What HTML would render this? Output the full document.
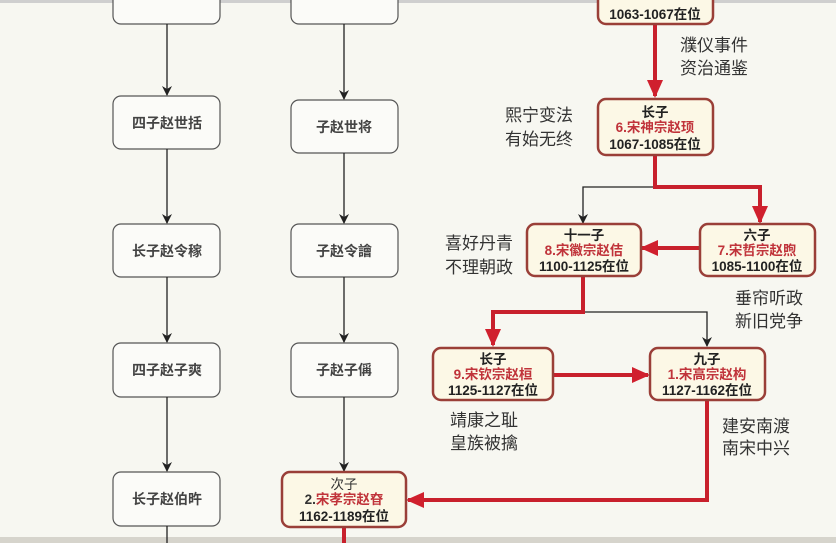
<!DOCTYPE html>
<html><head><meta charset="utf-8"><style>
html,body{margin:0;padding:0;background:#f7f7f1;}
svg{display:block}
text{font-family:"Liberation Sans","Noto Sans CJK SC",sans-serif;}
</style></head><body>
<svg width="836" height="543" viewBox="0 0 836 543" xmlns="http://www.w3.org/2000/svg">
<defs>
<marker id="ab" markerWidth="10" markerHeight="10" refX="9" refY="5" orient="auto" markerUnits="userSpaceOnUse"><path d="M0,0 L10,5 L0,10 L3,5 Z" fill="#222"/></marker>
<marker id="ar" markerWidth="18" markerHeight="16" refX="16" refY="8" orient="auto" markerUnits="userSpaceOnUse"><path d="M0,0 L18,8 L0,16 Z" fill="#d0202e"/></marker>
</defs>
<rect width="836" height="543" fill="#f7f7f1"/>
<rect x="0" y="0" width="836" height="3" fill="#cfcfcf"/>
<rect x="0" y="537" width="836" height="6" fill="#d6d4cc"/>

<g fill="#fbfbf8" stroke="#555" stroke-width="1.2">
<rect x="113" y="-20" width="107" height="44" rx="8"/>
<rect x="113" y="96" width="107" height="53" rx="8"/>
<rect x="113" y="224" width="107" height="53" rx="8"/>
<rect x="113" y="343" width="107" height="54" rx="8"/>
<rect x="113" y="472" width="107" height="54" rx="8"/>
<rect x="291" y="-20" width="107" height="44" rx="8"/>
<rect x="291" y="100" width="107" height="53" rx="8"/>
<rect x="291" y="224" width="107" height="53" rx="8"/>
<rect x="291" y="343" width="107" height="54" rx="8"/>
</g>
<g stroke="#222" stroke-width="1.3" marker-end="url(#ab)">
<line x1="167" y1="24" x2="167" y2="95"/>
<line x1="167" y1="149" x2="167" y2="223"/>
<line x1="167" y1="277" x2="167" y2="342"/>
<line x1="167" y1="397" x2="167" y2="471"/>
<line x1="344" y1="24" x2="344" y2="99"/>
<line x1="344" y1="153" x2="344" y2="223"/>
<line x1="344" y1="277" x2="344" y2="342"/>
<line x1="344" y1="397" x2="344" y2="471"/>
</g>
<line x1="167" y1="526" x2="167" y2="543" stroke="#222" stroke-width="1.3"/>
<g font-size="14" fill="#444" text-anchor="middle" font-weight="bold">
<text x="167" y="128">四子赵世括</text>
<text x="167" y="256">长子赵令稼</text>
<text x="167" y="375">四子赵子爽</text>
<text x="167" y="504">长子赵伯旿</text>
<text x="344" y="132">子赵世将</text>
<text x="344" y="256">子赵令譮</text>
<text x="344" y="375">子赵子偁</text>
</g>

<g stroke="#222" stroke-width="1.3" fill="none">
<polyline points="655,187 583,187 583,223" marker-end="url(#ab)"/>
<polyline points="583,312 707,312 707,346" marker-end="url(#ab)"/>
</g>
<g stroke="#c8202c" stroke-width="4" fill="none">
<polyline points="655,24 655,96" marker-end="url(#ar)"/>
<polyline points="655,155 655,187 760,187 760,222" marker-end="url(#ar)"/>
<line x1="700" y1="248" x2="642" y2="248" marker-end="url(#ar)"/>
<polyline points="583,276 583,312 493,312 493,345" marker-end="url(#ar)"/>
<line x1="553" y1="375" x2="648" y2="375" marker-end="url(#ar)"/>
<polyline points="707,400 707,500 408,500" marker-end="url(#ar)"/>
<line x1="344" y1="527" x2="344" y2="543"/>
</g>

<g fill="#fcf8e6" stroke="#9a3f38" stroke-width="2.5">
<rect x="598" y="-20" width="115" height="44" rx="8"/>
<rect x="598" y="99" width="115" height="56" rx="8"/>
<rect x="700" y="224" width="115" height="52" rx="8"/>
<rect x="527" y="224" width="114" height="52" rx="8"/>
<rect x="433" y="348" width="120" height="52" rx="8"/>
<rect x="650" y="348" width="115" height="52" rx="8"/>
<rect x="282" y="472" width="124" height="55" rx="8"/>
</g>
<g text-anchor="middle" font-size="13.5" font-weight="bold">
<text x="655" y="19" fill="#222">1063-1067在位</text>

<text x="655" y="117" fill="#222">长子</text>
<text x="655" y="132" fill="#c0333a">6.宋神宗赵顼</text>
<text x="655" y="149" fill="#222">1067-1085在位</text>

<text x="757" y="240" fill="#222">六子</text>
<text x="757" y="255" fill="#c0333a">7.宋哲宗赵煦</text>
<text x="757" y="271" fill="#222">1085-1100在位</text>

<text x="584" y="240" fill="#222">十一子</text>
<text x="584" y="255" fill="#c0333a">8.宋徽宗赵佶</text>
<text x="584" y="271" fill="#222">1100-1125在位</text>

<text x="493" y="364" fill="#222">长子</text>
<text x="493" y="379" fill="#c0333a">9.宋钦宗赵桓</text>
<text x="493" y="395" fill="#222">1125-1127在位</text>

<text x="707" y="364" fill="#222">九子</text>
<text x="707" y="379" fill="#c0333a">1.宋高宗赵构</text>
<text x="707" y="395" fill="#222">1127-1162在位</text>

<text x="344" y="489" fill="#333" font-weight="normal">次子</text>
<text x="344" y="504" fill="#c0333a"><tspan fill="#333">2.</tspan>宋孝宗赵昚</text>
<text x="344" y="521" fill="#222">1162-1189在位</text>
</g>

<g font-size="17" fill="#333">
<text x="680" y="51">濮仪事件</text>
<text x="680" y="74">资治通鉴</text>
<text x="505" y="121">熙宁变法</text>
<text x="505" y="145">有始无终</text>
<text x="445" y="249">喜好丹青</text>
<text x="445" y="273">不理朝政</text>
<text x="735" y="304">垂帘听政</text>
<text x="735" y="327">新旧党争</text>
<text x="450" y="426">靖康之耻</text>
<text x="450" y="449">皇族被擒</text>
<text x="722" y="432">建安南渡</text>
<text x="722" y="454">南宋中兴</text>
</g>
</svg>
</body></html>
